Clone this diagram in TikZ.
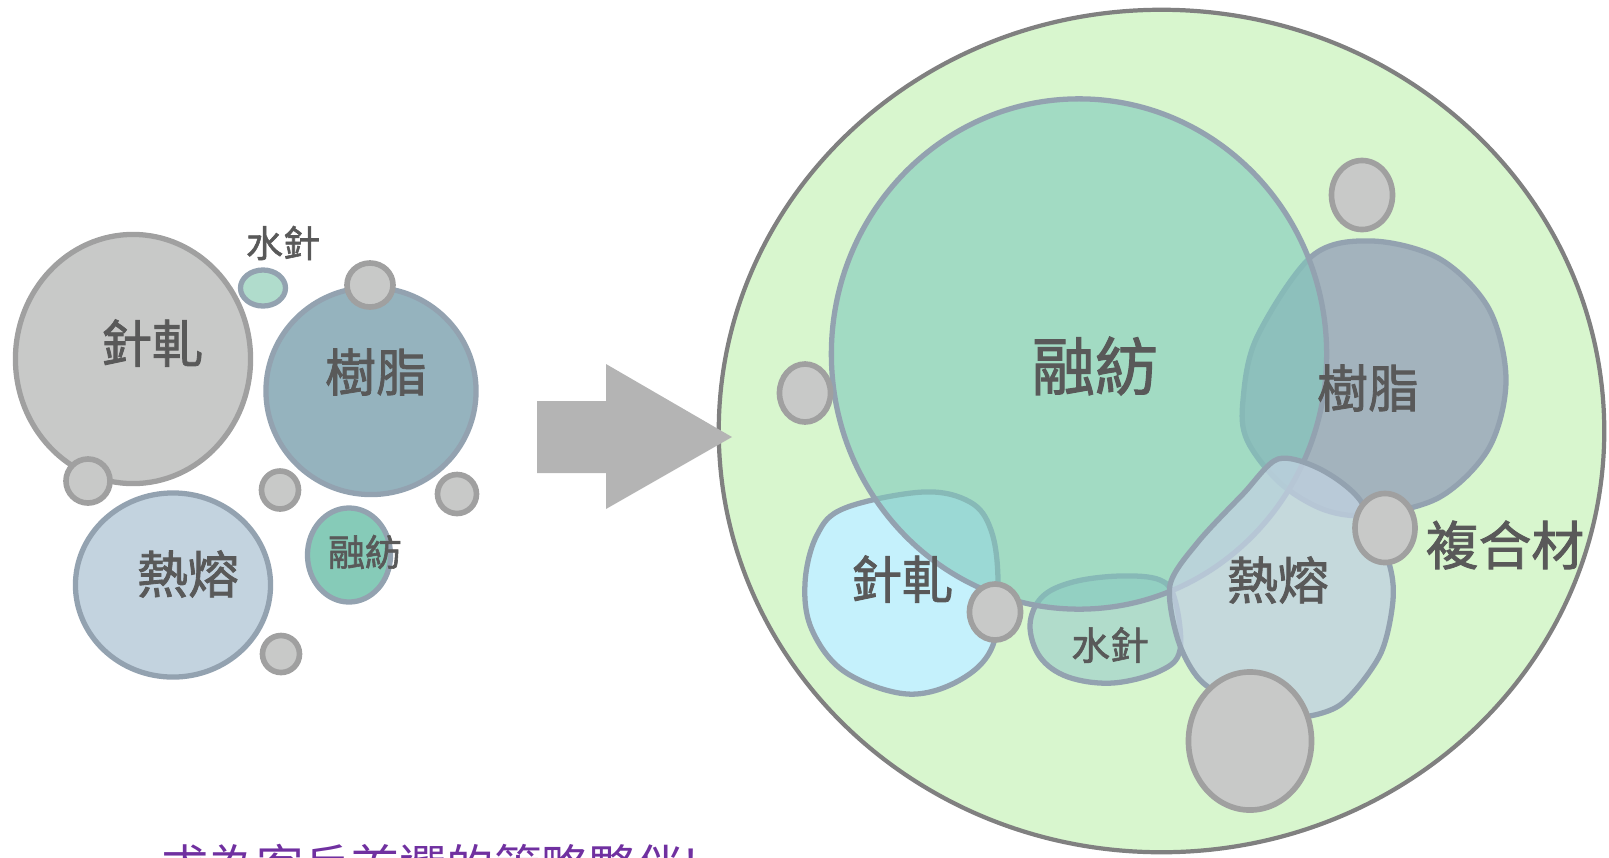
\documentclass[tikz,border=0pt]{standalone}
\usepackage{fontspec}
\newfontfamily\cjk{Noto Sans CJK TC}[FakeBold=1.6]
\newfontfamily\cjkthin{Noto Sans CJK TC}
\usetikzlibrary{shapes.geometric}

\definecolor{outerfill}{HTML}{D8F6CE}
\definecolor{outerline}{HTML}{808080}
\definecolor{arrowfill}{HTML}{B4B4B4}
\definecolor{dotfill}{HTML}{C8C9C8}
\definecolor{dotline}{HTML}{A0A0A0}
\definecolor{bubline}{HTML}{93A2B0}
\definecolor{hydrofill}{HTML}{B0DCCC}
\definecolor{resinfill}{HTML}{95B3BE}
\definecolor{thermfill}{HTML}{C3D3DF}
\definecolor{meltfill}{HTML}{86CBB8}
\definecolor{meltR}{HTML}{7FC9BC}
\definecolor{resinR}{HTML}{A3B3BD}
\definecolor{needleR}{HTML}{C5F1FC}
\definecolor{hydroR}{HTML}{B1DCCB}
\definecolor{thermR}{HTML}{C0D1E0}
\definecolor{labtext}{HTML}{595959}
\definecolor{slogan}{HTML}{7030A0}

\begin{document}
\begin{tikzpicture}[x=0.01cm, y=-0.01cm,
        bub/.style={ellipse, draw=bubline, line width=1.5pt, inner sep=0pt},
        dot/.style={ellipse, draw=dotline, fill=dotfill, line width=1.6pt, inner sep=0pt},
        blob/.style={draw=bubline, line width=1.5pt},
        labbig/.style={text=labtext, font=\cjk\fontsize{14.5}{17}\selectfont},
        labsmall/.style={text=labtext, font=\cjk\fontsize{10.5}{12}\selectfont}]
            \useasboundingbox (0,0) rectangle (1609,857);
            \clip (0,0) rectangle (1609,857);

            % Left bubbles
            \node[bub, draw=dotline, fill=dotfill, minimum width=2.35cm, minimum height=2.49cm] (needleL) at (133,359) {};
            \node[bub, fill=hydrofill, minimum width=0.45cm, minimum height=0.36cm] (hydroL) at (263,288) {};
            \node[bub, fill=resinfill, minimum width=2.10cm, minimum height=2.07cm] (resinL) at (371,391) {};
            \node[bub, fill=thermfill, minimum width=1.95cm, minimum height=1.84cm] (thermL) at (173,585) {};
            \node[bub, fill=meltfill, minimum width=0.83cm, minimum height=0.94cm] (meltL) at (349,555) {};
            \node[dot, minimum width=0.44cm, minimum height=0.44cm] (d1) at (88,481) {};
            \node[dot, minimum width=0.46cm, minimum height=0.44cm] (d2) at (370,285) {};
            \node[dot, minimum width=0.37cm, minimum height=0.38cm] (d3) at (280,490) {};
            \node[dot, minimum width=0.39cm, minimum height=0.39cm] (d4) at (457,494) {};
            \node[dot, minimum width=0.37cm, minimum height=0.37cm] (d5) at (281,654) {};

            % Left labels
            \node[labbig] (tneedleL) at (152,343) {針軋};
            \node[labbig] (tresinL) at (376,372) {樹脂};
            \node[labbig] (tthermL) at (188,574) {熱熔};
            \node[labsmall] (thydroL) at (283,243) {水針};
            \node[labsmall] (tmeltL) at (365,552) {融紡};

            % Composite
            \node[ellipse, draw=outerline, fill=outerfill, line width=1.2pt, inner sep=0pt,
                  minimum width=8.85cm, minimum height=8.42cm] (comp) at (1161.5,431) {};

            % Arrow
            \fill[arrowfill] (537,401) -- (606,401) -- (606,364) -- (732,437)
                -- (606,509) -- (606,473) -- (537,473) -- cycle;

            % Right blobs
            \draw[blob, fill=resinR] plot[smooth cycle, tension=0.55] coordinates {
                (1372,241) (1440,259) (1489,309) (1506,380) (1489,448) (1440,497)
                (1372,515) (1325,510) (1280,483) (1247,440) (1243,400) (1257,337)
                (1312,256)};
            \draw[blob, fill=needleR] plot[smooth cycle, tension=0.6] coordinates {
                (805,583) (817,535) (845,508) (923,492) (970,502) (991,530)
                (998,580) (993,645) (960,680) (907,694) (845,672) (812,630)};
            \draw[blob, fill=hydroR] plot[smooth cycle, tension=0.6] coordinates {
                (1030,625) (1042,597) (1073,582) (1120,576) (1160,580) (1175,600)
                (1180,650) (1160,671) (1113,683) (1068,677) (1040,657)};
            \node[bub, fill=meltR, fill opacity=0.6, minimum width=4.95cm, minimum height=5.10cm] (meltR) at (1079,354) {};
            \draw[blob, fill=thermR, fill opacity=0.78] plot[smooth cycle, tension=0.5] coordinates {
                (1278,459) (1320,469) (1360,500) (1388,560) (1393,600) (1380,655)
                (1340,705) (1290,718) (1240,705) (1200,680) (1178,640) (1170,585)
                (1198,542) (1243,494)};

            % Right dots
            \node[dot, minimum width=0.61cm, minimum height=0.69cm] (e1) at (1362,195) {};
            \node[dot, minimum width=0.51cm, minimum height=0.58cm] (e2) at (805,393) {};
            \node[dot, minimum width=0.51cm, minimum height=0.56cm] (e3) at (995,612) {};
            \node[dot, minimum width=0.60cm, minimum height=0.69cm] (e4) at (1385,528) {};
            \node[dot, minimum width=1.23cm, minimum height=1.38cm] (e5) at (1250,741) {};

            % Right labels
            \node[text=labtext, font=\cjk\fontsize{18}{21}\selectfont] (tmeltR) at (1095,366) {融紡};
            \node[labbig] (tresinR) at (1368,388) {樹脂};
            \node[labbig] (tneedleR) at (902,579) {針軋};
            \node[labbig] (tthermR) at (1278,580) {熱熔};
            \node[text=labtext, font=\cjk\fontsize{11}{13}\selectfont] (thydroR) at (1110,645) {水針};
            \node[text=labtext, font=\cjk\fontsize{15}{18}\selectfont] (tcomp) at (1505,545) {複合材};

            % Slogan
            \node[anchor=base west, inner sep=0pt, text=slogan, font=\cjkthin\fontsize{13.5}{16}\selectfont] (slogan) at (161,884) {求為客戶首選的策略夥伴!};
        \end{tikzpicture}
\end{document}
